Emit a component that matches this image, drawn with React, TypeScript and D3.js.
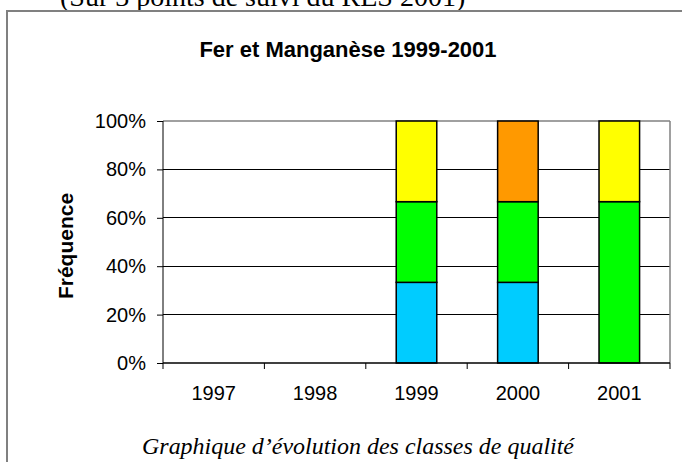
import React, { useEffect, useRef } from "react";
import * as d3 from "d3";

const years = ["1997", "1998", "1999", "2000", "2001"];
const classes = ["bleu", "vert", "jaune", "orange"];
const classColors = ["#00CCFF", "#00FF00", "#FFFF00", "#FF9900"];
// frequency (%) of each class per year
const bleu = [0, 0, 33.33, 33.33, 0];
const vert = [0, 0, 33.33, 33.33, 66.67];
const jaune = [0, 0, 33.33, 0, 33.33];
const orange = [0, 0, 0, 33.33, 0];
const yTicks = [0, 20, 40, 60, 80, 100];

const sans = "'Liberation Sans', Arial, sans-serif";
const serif = "'Liberation Serif', 'Times New Roman', serif";

export default function App() {
  const ref = useRef<SVGSVGElement>(null);

  useEffect(() => {
    const svg = d3.select(ref.current);
    svg.selectAll("*").remove();

    const margin = { left: 163, top: 121, right: 12, bottom: 99 };
    const W = 682, H = 462;
    const w = W - margin.left - margin.right;
    const h = H - margin.top - margin.bottom;

    // line of text cut off at the top
    svg.append("text").attr("x", 60).attr("y", 6)
      .style("font-family", serif).style("font-size", "28px")
      .text("(Sur 3 points de suivi du RES 2001)");

    // frame
    svg.append("rect").attr("x", 7).attr("y", 11).attr("width", 700).attr("height", 500)
      .attr("fill", "none").attr("stroke", "#808080").attr("stroke-width", 2);

    svg.append("text").attr("x", 348).attr("y", 57).attr("text-anchor", "middle")
      .style("font-family", sans).style("font-size", "22px")
      .style("font-weight", "bold").text("Fer et Manganèse 1999-2001");

    const g = svg.append("g").attr("transform", `translate(${margin.left},${margin.top})`);

    const x = d3.scaleBand().domain(years).range([0, w]).paddingInner(0).paddingOuter(0);
    const y = d3.scaleLinear().domain([0, 100]).range([h, 0]);

    // gridlines
    g.selectAll(".grid").data(yTicks.filter(t => t > 0 && t < 100)).join("line")
      .attr("x1", 0).attr("x2", w).attr("y1", d => y(d)).attr("y2", d => y(d))
      .attr("stroke", "#000").attr("stroke-width", 1).attr("shape-rendering", "crispEdges");

    // plot border top/right
    g.append("line").attr("x1", 0).attr("x2", w).attr("y1", 0).attr("y2", 0)
      .attr("stroke", "#808080").attr("stroke-width", 1.5);
    g.append("line").attr("x1", w).attr("x2", w).attr("y1", 0).attr("y2", h)
      .attr("stroke", "#808080").attr("stroke-width", 1.5);

    // stacked bars
    const series = [bleu, vert, jaune, orange];
    const rows = years.map((yr, i) => {
      const r: any = { year: yr };
      classes.forEach((c, k) => (r[c] = series[k][i]));
      return r;
    });
    const stack = d3.stack().keys(classes)(rows);
    const bw = x.bandwidth() * 0.4;
    stack.forEach((s, k) => {
      g.selectAll(".b" + k).data(s.filter(d => d[1] - d[0] > 0)).join("rect")
        .attr("x", d => x(d.data.year as string)! + (x.bandwidth() - bw) / 2)
        .attr("y", d => y(d[1]))
        .attr("width", bw)
        .attr("height", d => y(d[0]) - y(d[1]))
        .attr("fill", classColors[k])
        .attr("stroke", "#000").attr("stroke-width", 1.5);
    });

    // y axis
    const yAxis = g.append("g").call(
      d3.axisLeft(y).tickValues(yTicks).tickSize(6).tickPadding(11).tickFormat(d => `${d}%`)
    );
    yAxis.select(".domain").attr("stroke", "#000").attr("d", `M0,0V${h}`);
    yAxis.selectAll("line").attr("stroke", "#000");
    yAxis.selectAll("text").style("font-family", sans)
      .style("font-size", "20px").attr("fill", "#000");

    // x axis
    const xTicks = d3.range(years.length + 1).map(i => i * x.step());
    const xAxis = g.append("g").attr("transform", `translate(0,${h})`);
    xAxis.append("line").attr("x1", 0).attr("x2", w).attr("stroke", "#000").attr("stroke-width", 1.5);
    xAxis.selectAll(".tk").data(xTicks).join("line")
      .attr("x1", d => d).attr("x2", d => d).attr("y1", 0).attr("y2", 6).attr("stroke", "#000");
    xAxis.selectAll(".lbl").data(years).join("text")
      .attr("x", d => x(d)! + x.bandwidth() / 2).attr("y", 37).attr("text-anchor", "middle")
      .style("font-family", sans).style("font-size", "20px")
      .text(d => d);

    svg.append("text").attr("transform", "translate(73,246) rotate(-90)").attr("text-anchor", "middle")
      .style("font-family", sans).style("font-size", "21px")
      .style("font-weight", "bold").text("Fréquence");

    svg.append("text").attr("x", 142).attr("y", 454)
      .attr("textLength", 432).attr("lengthAdjust", "spacingAndGlyphs")
      .style("font-family", serif).style("font-size", "23px")
      .style("font-style", "italic").text("Graphique d’évolution des classes de qualité");
  }, []);

  return (
    <svg ref={ref} width={682} height={462}
      style={{ position: "absolute", left: 0, top: 0, background: "#fff" }} />
  );
}
